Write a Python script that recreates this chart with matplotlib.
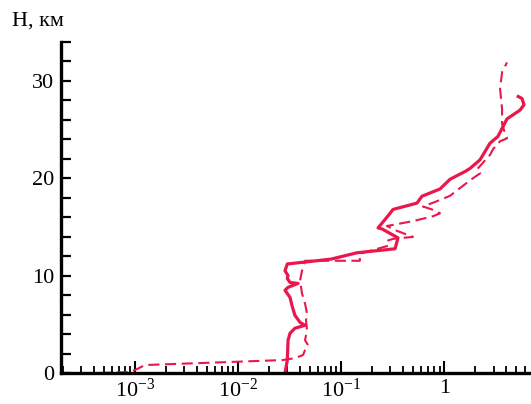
import matplotlib
matplotlib.use("Agg")
import matplotlib.pyplot as plt
from matplotlib.ticker import MultipleLocator, LogLocator, FixedLocator, FixedFormatter, NullFormatter

plt.rcParams['font.family'] = ['Liberation Serif', 'DejaVu Serif']
plt.rcParams['mathtext.fontset'] = 'custom'
plt.rcParams['mathtext.rm'] = 'Liberation Serif'
plt.rcParams['mathtext.it'] = 'Liberation Serif:italic'
plt.rcParams['lines.scale_dashes'] = False

# solid profile: value, height (km)
solid_x = [0.0286, 0.0301, 0.0306, 0.032, 0.0357, 0.0447, 0.040, 0.0357,
           0.0334, 0.032, 0.0286, 0.0306, 0.0382, 0.032, 0.0301, 0.0306,
           0.0286, 0.0301, 0.045, 0.08, 0.1426, 0.333, 0.356, 0.249,
           0.228, 0.298, 0.318, 0.543, 0.608, 0.908, 1.136, 1.59, 1.77,
           2.22, 2.77, 3.31, 3.70, 4.05, 5.41, 5.92, 5.66, 5.2]
solid_h = [0.0, 1.33, 3.37, 4.08, 4.6, 4.9, 5.2, 5.92,
           6.94, 7.76, 8.5, 8.8, 9.2, 9.3, 9.7, 10.0,
           10.5, 11.2, 11.4, 11.7, 12.35, 12.76, 13.88, 14.8,
           14.9, 16.4, 16.8, 17.45, 18.16, 18.9, 19.9, 20.7, 21.0,
           21.9, 23.6, 24.3, 25.3, 26.1, 27.0, 27.55, 28.2, 28.4]

# dashed profile
dash_x = [4.6e-4, 8.97e-4, 1.05e-3, 1.26e-3, 4.3e-3, 0.0273, 0.0357, 0.0427,
          0.0447, 0.0478, 0.0447, 0.0467, 0.0457, 0.0467, 0.0447, 0.0418,
          0.040, 0.0418, 0.0447, 0.0624, 0.152, 0.152, 0.19, 0.284,
          0.278, 0.318, 0.497, 0.348, 0.278, 0.497, 0.776, 0.908,
          0.76, 0.622, 0.85, 1.135, 1.42, 1.89, 2.22, 2.07,
          2.77, 2.97, 3.47, 4.05, 3.88, 3.63, 3.63, 3.47, 3.63, 4.05]
dash_h = [0.0, 0.1, 0.4, 0.82, 1.02, 1.33, 1.53, 1.84,
          2.35, 2.86, 3.37, 4.39, 5.41, 6.12, 7.14, 8.16,
          9.49, 10.5, 11.53, 11.53, 11.53, 12.24, 12.55, 13.06,
          13.57, 13.78, 13.98, 14.6, 15.1, 15.6, 16.1, 16.4,
          16.8, 17.1, 17.65, 18.2, 19.0, 20.0, 20.5, 20.9,
          22.4, 23.0, 23.8, 24.1, 24.6, 25.6, 27.1, 29.2, 30.9, 31.9]

x_ticks = [1e-3, 1e-2, 1e-1, 1]
x_labels = [r'$10^{-3}$', r'$10^{-2}$', r'$10^{-1}$', '1']
y_ticks = [0, 10, 20, 30]

red = '#e8174c'

fig = plt.figure(figsize=(5.31, 4.04), dpi=100)
ax = fig.add_axes([61 / 531, 31 / 404, 470 / 531, 331 / 404])

ax.plot(solid_x, solid_h, color=red, lw=2.3, solid_joinstyle='round')
ax.plot(dash_x, dash_h, color=red, lw=1.5, dashes=(8, 4))

ax.set_xscale('log')
ax.set_xlim(1.93e-4, 6.92)
ax.set_ylim(0, 34)

ax.xaxis.set_major_locator(FixedLocator(x_ticks))
ax.xaxis.set_major_formatter(FixedFormatter(x_labels))
ax.xaxis.set_minor_locator(LogLocator(base=10, subs=range(2, 10)))
ax.xaxis.set_minor_formatter(NullFormatter())

ax.yaxis.set_major_locator(FixedLocator(y_ticks))
ax.yaxis.set_minor_locator(MultipleLocator(2))

for s in ['top', 'right']:
    ax.spines[s].set_visible(False)
for s in ['left', 'bottom']:
    ax.spines[s].set_linewidth(2.4)

ax.tick_params(axis='x', which='major', direction='in', length=9, width=1.5,
               labelsize=16, pad=4)
ax.tick_params(axis='x', which='minor', direction='in', length=5, width=1.3)
ax.tick_params(axis='y', which='both', direction='in', length=7, width=1.6,
               labelsize=16, pad=5)

fig.text(12 / 531, 1 - 21 / 404, 'H, км', fontsize=16, va='center', ha='left')

plt.savefig('out.png', dpi=100)
